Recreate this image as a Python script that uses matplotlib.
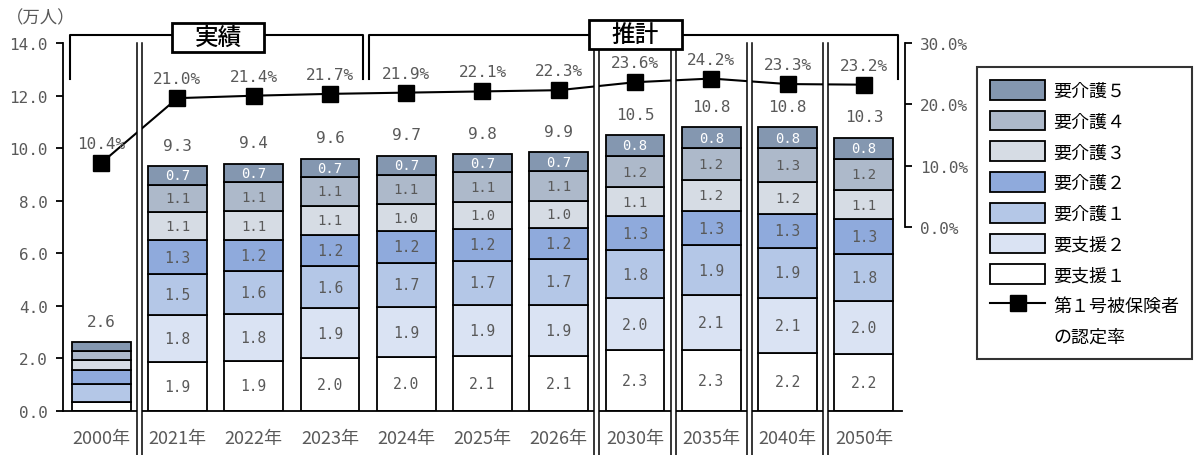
import matplotlib
matplotlib.use('Agg')
import matplotlib.pyplot as plt
import matplotlib.transforms as mtransforms
from matplotlib.patches import Rectangle
from matplotlib.lines import Line2D

plt.rcParams['font.family'] = ['Noto Sans CJK JP', 'DejaVu Sans']

# データ（単位：万人）
years = ['2000年', '2021年', '2022年', '2023年', '2024年', '2025年',
         '2026年', '2030年', '2035年', '2040年', '2050年']
shien1 = [0.34, 1.87, 1.9, 2.0, 2.04, 2.10, 2.10, 2.3, 2.3, 2.2, 2.16]
shien2 = [0.0, 1.79, 1.8, 1.9, 1.91, 1.93, 1.94, 2.0, 2.1, 2.1, 2.01]
kaigo1 = [0.68, 1.53, 1.6, 1.6, 1.68, 1.67, 1.74, 1.8, 1.9, 1.9, 1.81]
kaigo2 = [0.53, 1.30, 1.2, 1.2, 1.21, 1.22, 1.18, 1.3, 1.3, 1.3, 1.30]
kaigo3 = [0.38, 1.06, 1.1, 1.1, 1.03, 1.04, 1.04, 1.1, 1.2, 1.2, 1.14]
kaigo4 = [0.36, 1.06, 1.1, 1.1, 1.11, 1.11, 1.11, 1.2, 1.2, 1.3, 1.16]
kaigo5 = [0.32, 0.70, 0.7, 0.7, 0.73, 0.71, 0.74, 0.8, 0.8, 0.8, 0.82]
totals = [2.6, 9.3, 9.4, 9.6, 9.7, 9.8, 9.9, 10.5, 10.8, 10.8, 10.3]
# 第1号被保険者の認定率（%）
rate = [10.4, 21.0, 21.4, 21.7, 21.9, 22.1, 22.3, 23.6, 24.2, 23.3, 23.2]
show_inner = [False] + [True] * 10

# 区切り線の位置（棒の間）
separators = [0.5, 6.5, 7.5, 8.5, 9.5]

gray = '#595959'
mono = 'DejaVu Sans Mono'

segments = [
    ('要支援１', shien1, '#ffffff', gray, 10.5),
    ('要支援２', shien2, '#dae3f3', gray, 10.5),
    ('要介護１', kaigo1, '#b4c7e7', gray, 10.5),
    ('要介護２', kaigo2, '#8faadc', gray, 10.5),
    ('要介護３', kaigo3, '#d6dce4', gray, 10),
    ('要介護４', kaigo4, '#adb9ca', gray, 10),
    ('要介護５', kaigo5, '#8497b0', 'white', 10),
]

fig = plt.figure(figsize=(11.95, 4.56), dpi=100)
ax = fig.add_axes([63 / 1195, (456 - 411.7) / 456, 839 / 1195, 367.7 / 456])

x = list(range(len(years)))
width = 0.77
bottom = [0.0] * len(x)
bar_handles = []
for name, vals, color, tcolor, fs in segments:
    b = ax.bar(x, vals, width, bottom=bottom, color=color, edgecolor='black',
               linewidth=1.3, zorder=2, label=name)
    bar_handles.append(b)
    for i in x:
        if show_inner[i] and vals[i] > 0:
            ax.text(i, bottom[i] + vals[i] / 2, f'{vals[i]:.1f}', ha='center', va='center',
                    fontsize=fs, color=tcolor, fontfamily=mono, zorder=3)
    bottom = [bt + v for bt, v in zip(bottom, vals)]

# 合計
for i in x:
    ax.annotate(f'{totals[i]:.1f}', (i, bottom[i]), xytext=(0, 15), textcoords='offset points',
                ha='center', va='center', fontsize=11.5, color=gray, fontfamily=mono)

ax.set_xlim(-0.5, 10.5)
ax.set_ylim(0, 14)
yt = [0, 2, 4, 6, 8, 10, 12, 14]
ax.set_yticks(yt)
ax.set_yticklabels([f'{v:.1f}' for v in yt])
ax.set_xticks(x)
ax.set_xticklabels(years)
ax.tick_params(axis='x', length=0, pad=13, labelsize=13, labelcolor=gray)
ax.tick_params(axis='y', direction='out', length=5, width=1.3, pad=6,
               labelsize=11.5, labelcolor=gray, labelfontfamily=mono)
ax.spines['top'].set_visible(False)
ax.spines['right'].set_visible(False)
ax.spines['left'].set_linewidth(1.3)
ax.spines['bottom'].set_linewidth(1.3)

# 第2軸：認定率
ax2 = ax.twinx()
ax2.set_ylim(-30, 30)
rt = [0, 10, 20, 30]
ax2.set_yticks(rt)
ax2.set_yticklabels([f'{v:.1f}%' for v in rt])
ax2.tick_params(axis='y', direction='out', length=5, width=1.3, pad=6,
                labelsize=11.5, labelcolor=gray, labelfontfamily=mono)
for s in ['left', 'top', 'bottom']:
    ax2.spines[s].set_visible(False)
ax2.spines['right'].set_position(('axes', 1.0036))
ax2.spines['right'].set_bounds(0, 30)
ax2.spines['right'].set_linewidth(1.3)

line, = ax2.plot(x, rate, color='black', linewidth=1.5, marker='s', markersize=11.5,
                 zorder=3, label='第１号被保険者')
for i in x:
    ax2.annotate(f'{rate[i]:.1f}%', (i, rate[i]), xytext=(0, 14), textcoords='offset points',
                 ha='center', va='center', fontsize=11.5, color=gray, fontfamily=mono)

# 区切り線（二重線）
trans = mtransforms.blended_transform_factory(ax2.transData, ax2.transAxes)
gap = 0.033
for m in separators:
    ax2.add_patch(Rectangle((m - gap, -0.13), 2 * gap, 1.13, transform=trans,
                            facecolor='white', edgecolor='none', clip_on=False, zorder=5))
    for dx in (-gap, gap):
        ax2.plot([m + dx, m + dx], [-0.13, 1.0], transform=trans, color='black',
                 linewidth=1.1, clip_on=False, zorder=6)

# 実績・推計の括弧
y_hi, y_lo = 1.022, 0.902
ax2.plot([-0.41, -0.41, 3.43, 3.43], [y_lo, y_hi, y_hi, y_lo], transform=trans,
         color='black', linewidth=1.5, clip_on=False, zorder=6)
ax2.plot([3.51, 3.51, 10.45, 10.45], [y_lo, y_hi, y_hi, y_lo], transform=trans,
         color='black', linewidth=1.5, clip_on=False, zorder=6)
for label, x0, y0 in [('実績', 0.93, 0.975), ('推計', 6.40, 0.983)]:
    ax2.add_patch(Rectangle((x0, y0), 1.21, 0.08, transform=trans, facecolor='white',
                            edgecolor='black', linewidth=2, clip_on=False, zorder=7))
    ax2.text(x0 + 0.605, y0 + 0.04, label, transform=trans, ha='center', va='center',
             fontsize=17, fontweight='medium', color='black', zorder=8)

fig.text(6 / 1195, 1 - 18 / 456, '（万人）', ha='left', va='center', fontsize=12.5, color=gray)

# 凡例
handles = bar_handles[::-1] + [line, Line2D([], [], linestyle='none')]
labels = [h.get_label() for h in bar_handles[::-1]] + ['第１号被保険者', 'の認定率']
leg = fig.legend(handles, labels, loc='upper left', bbox_to_anchor=(977 / 1195, 1 - 68 / 456),
                 bbox_transform=fig.transFigure, frameon=True, fancybox=False,
                 edgecolor='black', fontsize=13, handlelength=3.05, handleheight=1.3,
                 labelspacing=0.6, handletextpad=0.45, borderpad=0.72, borderaxespad=0)
leg.get_frame().set_linewidth(1.5)

plt.savefig('out.png', dpi=100)
